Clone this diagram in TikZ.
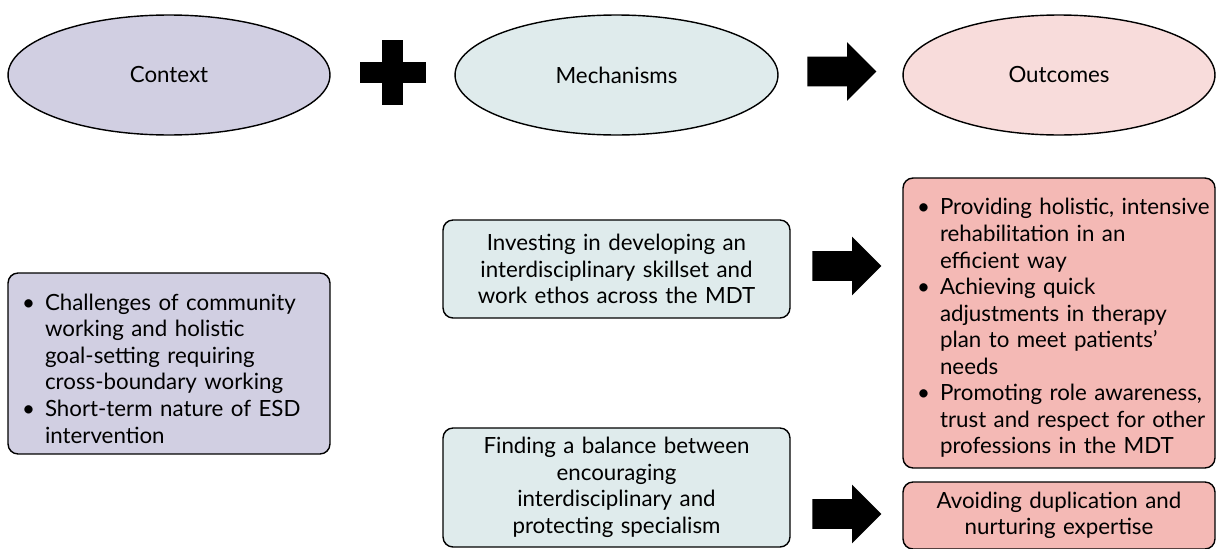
\documentclass[tikz,border=0pt]{standalone}
\usepackage{fontspec}
\setmainfont{Lato}
\usepackage{enumitem}
\usetikzlibrary{arrows}
\usetikzlibrary{positioning}
\usetikzlibrary{shapes.geometric,shapes.arrows}
\definecolor{ctxcol}{RGB}{209,207,226}
\definecolor{mechcol}{RGB}{223,235,236}
\definecolor{outcol}{RGB}{248,220,219}
\definecolor{outbox}{RGB}{244,185,181}
\setlist[itemize]{nosep,leftmargin=0.54cm,labelsep=0.2cm,label=\textbullet}

\begin{document}
\begin{tikzpicture}
		[x=0.02cm,y=-0.02cm,
		every node/.style={font=\fontsize{12.7}{15.1}\selectfont},
		oval/.style={ellipse,draw,line width=0.8pt,minimum width=6.44cm,minimum height=2.4cm},
		box/.style={rectangle,rounded corners=0.2cm,draw,line width=0.8pt,inner xsep=0.2cm,inner ysep=0.1cm},
		blk/.style={single arrow,fill=black,anchor=tail,minimum height=1.38cm,inner xsep=0pt,inner ysep=0.29cm,single arrow head extend=0.29cm}]
		\useasboundingbox (0,0) rectangle (1217,548);
		
		\node[oval,fill=ctxcol] (ctx) at (169,75) {Context};
		\node[oval,fill=mechcol,minimum width=6.46cm] (mech) at (616.5,75) {Mechanisms};
		\node[oval,fill=outcol,minimum width=6.24cm] (out) at (1059,75) {Outcomes};
		
		\fill (382,40) rectangle (403,105);
		\fill (360,62) rectangle (426,83);
		
		\node[box,fill=ctxcol,text width=6.04cm,minimum height=3.62cm] (c1) at (169,363.5) {%
			\begin{itemize}
				\item Challenges of community\\ working and holistic\\ goal-setting requiring\\ cross-boundary working
				\item Short-term nature of ESD\\ intervention
			\end{itemize}};
		\node[box,fill=mechcol,text width=6.54cm,align=center,minimum height=1.96cm] (m1) at (616.5,269)
			{Investing in developing an\\ interdisciplinary skillset and\\ work ethos across the MDT};
		\node[box,fill=mechcol,text width=6.54cm,align=center,minimum height=2.38cm] (m2) at (616.5,487.5)
			{Finding a balance between\\ encouraging\\ interdisciplinary and\\ protecting specialism};
		\node[box,fill=outbox,inner xsep=0.1cm,text width=6.04cm,minimum height=5.8cm] (o1) at (1059,323) {%
			\begin{itemize}[leftmargin=0.64cm]
				\item Providing holistic, intensive\\ rehabilitation in an\\ efficient way
				\item Achieving quick\\ adjustments in therapy\\ plan to meet patients'\\ needs
				\item Promoting role awareness,\\ trust and respect for other\\ professions in the MDT
			\end{itemize}};
		\node[box,fill=outbox,text width=5.84cm,align=center,minimum height=1.34cm] (o2) at (1059,515.5)
			{Avoiding duplication and\\ nurturing expertise};
		
		\node[blk] (a1) at (807,71.5) {};
		\node[blk] (a2) at (812,266) {};
		\node[blk] (a3) at (812,514) {};
\end{tikzpicture}
\end{document}
